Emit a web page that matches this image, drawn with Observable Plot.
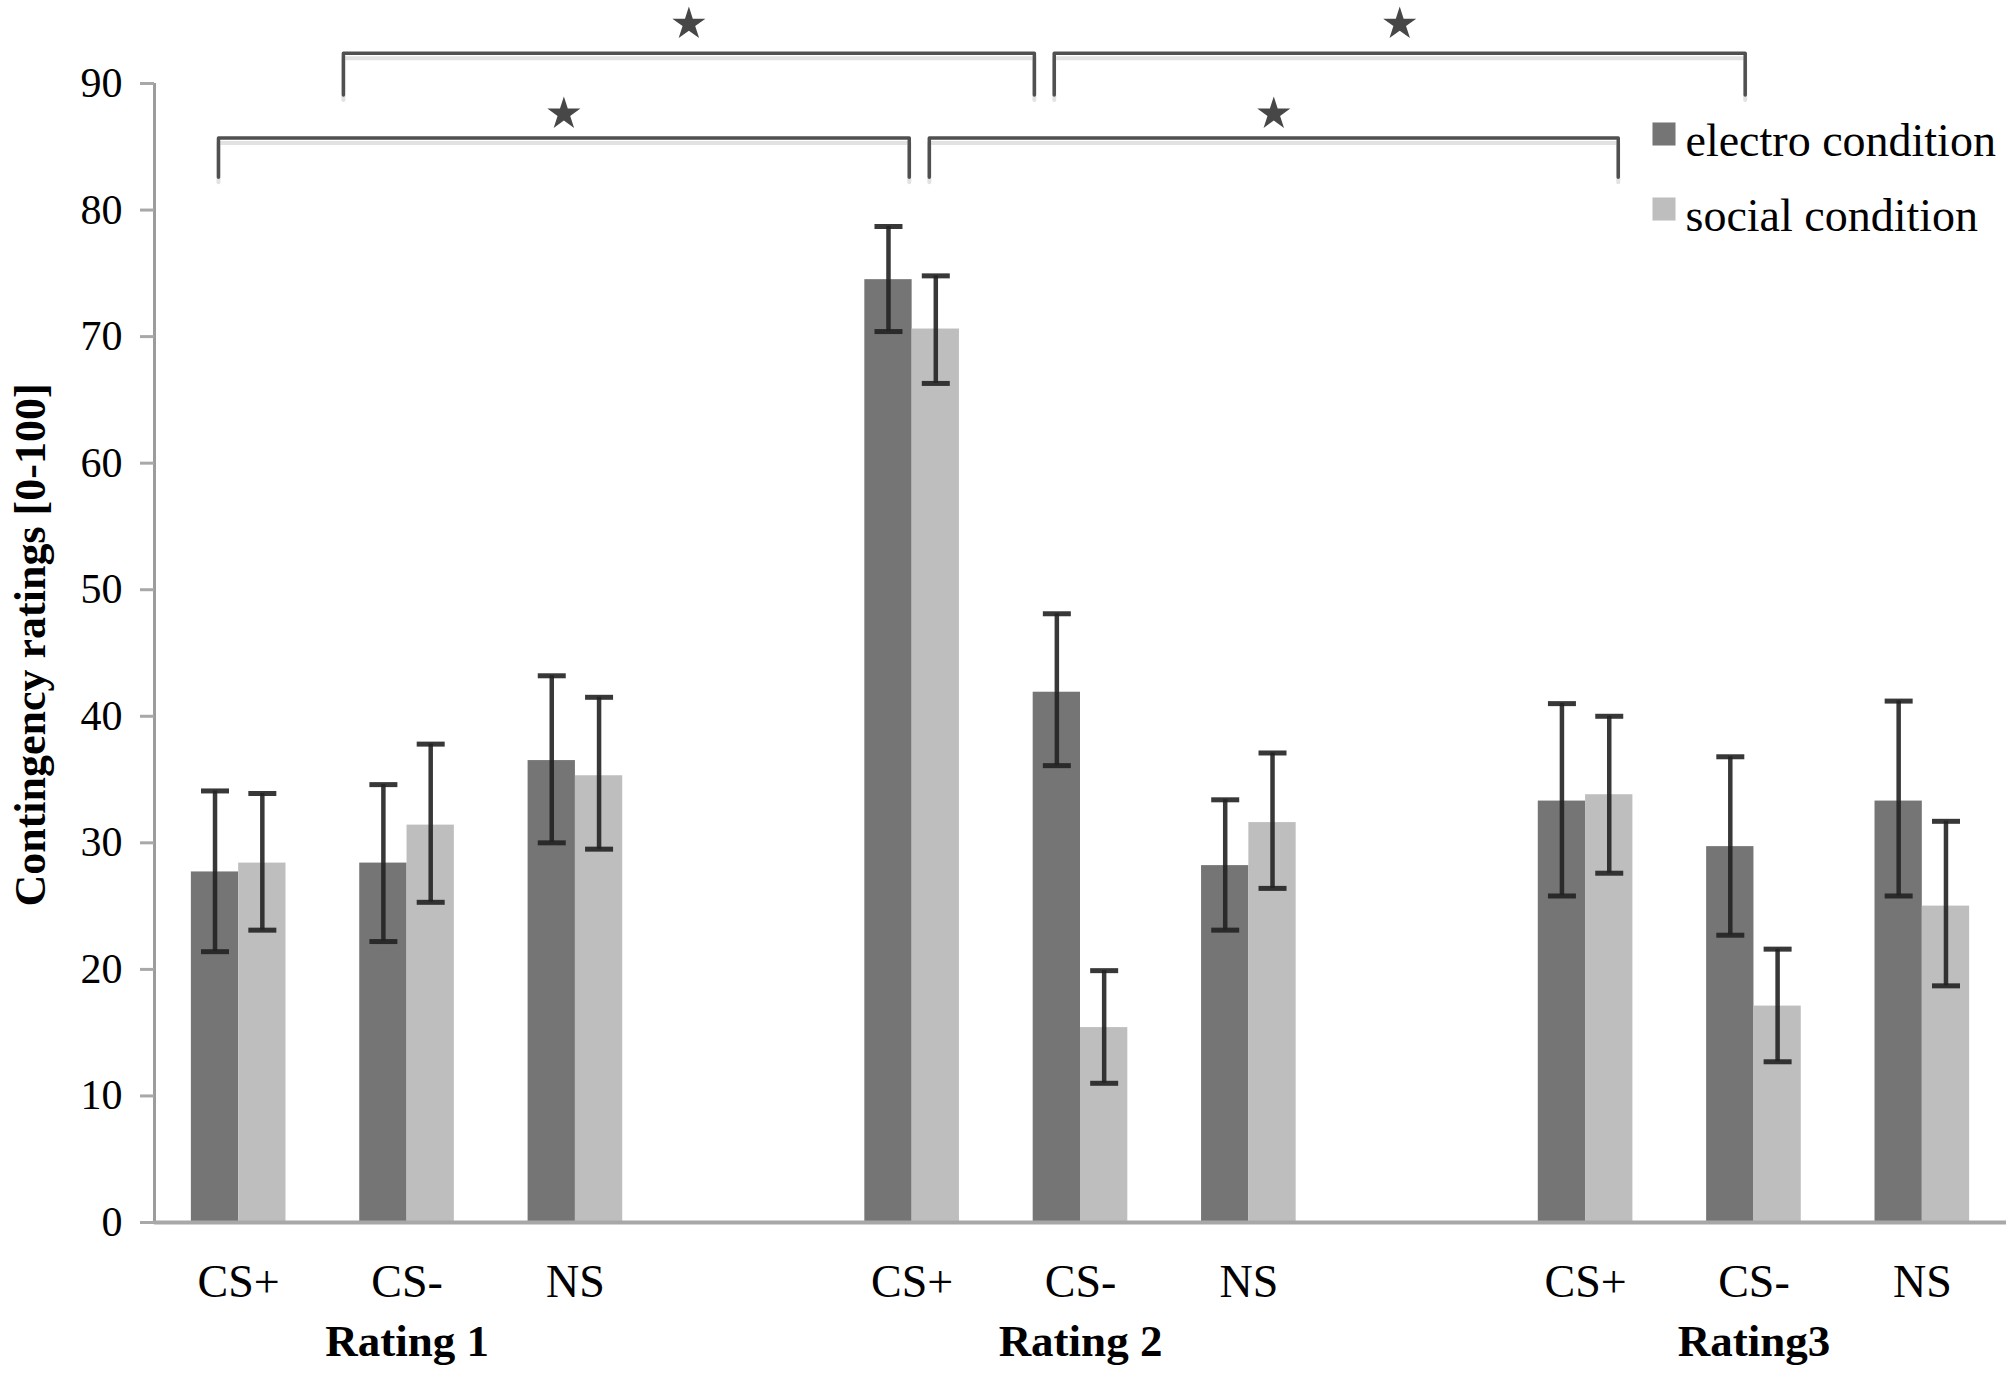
<!DOCTYPE html>
<html>
<head>
<meta charset="utf-8">
<script src="https://cdn.jsdelivr.net/npm/d3@7"></script>
<script src="https://cdn.jsdelivr.net/npm/@observablehq/plot@0.6"></script>
<style>
  body { margin: 0; background: #fff; }
  #chart svg { display: block; }
</style>
</head>
<body>
<div id="chart"></div>
<script>
// ---- data ----
const groups = ["Rating 1", "Rating 2", "Rating3"];
const stimuli = ["CS+", "CS-", "NS"];
const conditions = ["electro condition", "social condition"];

const electroMean = [27.7, 28.4, 36.5, 74.5, 41.9, 28.2, 33.3, 29.7, 33.3];
const electroLow  = [21.4, 22.2, 30.0, 70.4, 36.1, 23.1, 25.8, 22.7, 25.8];
const electroHigh = [34.1, 34.6, 43.2, 78.7, 48.1, 33.4, 41.0, 36.8, 41.2];

const socialMean = [28.4, 31.4, 35.3, 70.6, 15.4, 31.6, 33.8, 17.1, 25.0];
const socialLow  = [23.1, 25.3, 29.5, 66.3, 11.0, 26.4, 27.6, 12.7, 18.7];
const socialHigh = [33.9, 37.8, 41.5, 74.8, 19.9, 37.1, 40.0, 21.6, 31.7];

const yTicks = [0, 10, 20, 30, 40, 50, 60, 70, 80, 90];

// significance brackets (x in category-slot units, y in rating units)
const bracketLeft  = [0.380, 4.602, 1.122, 5.344];
const bracketRight = [4.483, 8.694, 5.226, 9.448];
const bracketTop   = [85.7, 85.7, 92.4, 92.4];
const bracketFoot  = [82.6, 82.6, 89.1, 89.1];
const starY        = [87.6, 87.6, 94.7, 94.7];

// ---- build tables ----
const slotsPerGroup = stimuli.length + 1; // one empty slot between groups
const barW = 0.281;
const rows = [];
const tickPos = [];
const tickLabel = new Map();
groups.forEach((g, gi) => {
  stimuli.forEach((s, si) => {
    const k = gi * stimuli.length + si;
    const c = gi * slotsPerGroup + si + 0.5;
    tickPos.push(c);
    tickLabel.set(c, s);
    rows.push({group: g, stim: s, condition: conditions[0], mean: electroMean[k], lo: electroLow[k], hi: electroHigh[k],
               x1: c - barW, x2: c, cx: c - barW / 2});
    rows.push({group: g, stim: s, condition: conditions[1], mean: socialMean[k], lo: socialLow[k], hi: socialHigh[k],
               x1: c, x2: c + barW, cx: c + barW / 2});
  });
});
const groupRows = groups.map((g, gi) => ({group: g, x: gi * slotsPerGroup + (stimuli.length - 1) / 2 + 0.5}));

const bracketPts = [];
bracketLeft.forEach((l, i) => {
  const r = bracketRight[i];
  bracketPts.push({id: i, x: l, y: bracketFoot[i]});
  bracketPts.push({id: i, x: l, y: bracketTop[i]});
  bracketPts.push({id: i, x: r, y: bracketTop[i]});
  bracketPts.push({id: i, x: r, y: bracketFoot[i]});
});
const stars = bracketLeft.map((l, i) => ({x: (l + bracketRight[i]) / 2, y: starY[i]}));

const capSymbol = {
  draw(ctx, size) {
    const r = Math.sqrt(size / Math.PI);
    ctx.moveTo(-r, 0);
    ctx.lineTo(r, 0);
  }
};

const errColor = "#222222";

const chart = Plot.plot({
  width: 2013,
  height: 1374,
  marginLeft: 154,
  marginRight: 7,
  marginTop: 83,
  marginBottom: 152,
  style: {fontFamily: "'Liberation Serif', 'Times New Roman', serif", background: "#fff", color: "black"},
  x: {type: "linear", domain: [0, groups.length * slotsPerGroup - 1]},
  y: {domain: [0, 90]},
  color: {domain: conditions, range: ["#757575", "#bebebe"]},
  marks: [
    // bars
    Plot.rect(rows, {x1: "x1", x2: "x2", y1: 0, y2: "mean", fill: "condition"}),
    // axes lines
    Plot.ruleX([0], {y1: 0, y2: 90, stroke: "#9c9c9c", strokeWidth: 3}),
    Plot.ruleY([0], {stroke: "#a8a8a8", strokeWidth: 4}),
    Plot.axisY(yTicks, {tickSize: 14, tickPadding: 18, fontSize: 42, stroke: "#a8a8a8", strokeWidth: 3, fill: "black", label: null, tickFormat: d => String(d)}),
    Plot.axisX(tickPos, {tickSize: 0, tickPadding: 42, fontSize: 46, fill: "black", label: null, tickFormat: d => tickLabel.get(d)}),
    // group labels
    Plot.text(groupRows, {x: "x", text: "group", frameAnchor: "bottom", lineAnchor: "bottom", dy: 133, fontSize: 45, fontWeight: "bold", fill: "black"}),
    // y-axis title
    Plot.text(["Contingency ratings [0-100]"], {frameAnchor: "left", rotate: -90, textAnchor: "middle", lineAnchor: "bottom", dx: -110, dy: -8, fontSize: 44, fontWeight: "bold", fill: "black"}),
    // error bars
    Plot.ruleX(rows, {x: "cx", y1: "lo", y2: "hi", stroke: errColor, strokeWidth: 4.5, strokeOpacity: 0.9}),
    Plot.dot(rows, {x: "cx", y: "hi", symbol: capSymbol, r: 14, fill: "none", stroke: errColor, strokeWidth: 5, strokeOpacity: 0.9}),
    Plot.dot(rows, {x: "cx", y: "lo", symbol: capSymbol, r: 14, fill: "none", stroke: errColor, strokeWidth: 5, strokeOpacity: 0.9}),
    // significance brackets (soft shadow then line)
    Plot.line(bracketPts, {x: "x", y: "y", z: "id", stroke: "#cfcfcf", strokeWidth: 4, strokeOpacity: 0.6, dy: 5, strokeLinejoin: "round"}),
    Plot.line(bracketPts, {x: "x", y: "y", z: "id", stroke: "#505050", strokeWidth: 3.5, strokeLinejoin: "round", strokeLinecap: "round"}),
    Plot.dot(stars, {x: "x", y: "y", symbol: "star", r: 10.4, fill: "#474747", stroke: "none"}),
    // legend
    Plot.dot([conditions[0]], {fill: d => d, symbol: "square", r: 13, frameAnchor: "top-right", dx: -342.5, dy: 50.5}),
    Plot.dot([conditions[1]], {fill: d => d, symbol: "square", r: 13, frameAnchor: "top-right", dx: -342.5, dy: 125.5}),
    Plot.text([conditions[0]], {text: d => d, frameAnchor: "top-right", textAnchor: "start", lineAnchor: "bottom", dx: -321, dy: 72, fontSize: 46, fill: "black"}),
    Plot.text([conditions[1]], {text: d => d, frameAnchor: "top-right", textAnchor: "start", lineAnchor: "bottom", dx: -321, dy: 147, fontSize: 46, fill: "black"})
  ]
});
document.getElementById("chart").appendChild(chart);
</script>
</body>
</html>
